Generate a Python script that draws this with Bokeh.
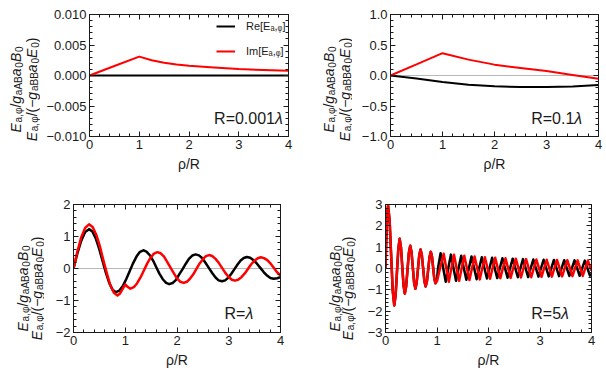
import math
from bokeh.plotting import figure
from bokeh.models import (Label, Span, LinearAxis, SingleIntervalTicker,
                          CustomJSTickFormatter, Legend, LegendItem, Range1d)
from bokeh.layouts import column, row
from bokeh.embed import file_html
from bokeh.resources import INLINE

# ---------------- data ----------------
# Panel 1: R = 0.001 lambda
p1_re_x = [0.0, 4.0]
p1_re_y = [0.0, 0.0]
p1_im_x = [0.0, 0.5, 1.0, 1.25, 1.5, 1.75, 2.0, 2.5, 3.0, 3.5, 4.0]
p1_im_y = [0.0, 0.00155, 0.0031, 0.0025, 0.0021, 0.0018, 0.0016, 0.0013, 0.00105, 0.0009, 0.00078]

# Panel 2: R = 0.1 lambda
p2_x = [0.0, 0.5, 1.0, 1.5, 2.0, 2.5, 3.0, 3.5, 4.0]
p2_re_y = [0.0, -0.05, -0.105, -0.15, -0.175, -0.19, -0.19, -0.18, -0.155]
p2_im_y = [0.0, 0.183, 0.366, 0.26, 0.178, 0.122, 0.075, 0.01, -0.055]

# Panel 3: R = lambda  (x, y) pairs
p3_re = [(0.0, 0.0), (0.075, 0.47), (0.15, 0.87), (0.225, 1.14), (0.3, 1.23), (0.365, 1.155),
         (0.43, 0.94), (0.495, 0.62), (0.56, 0.245), (0.625, -0.13), (0.69, -0.45), (0.755, -0.665),
         (0.82, -0.74), (0.886, -0.69), (0.953, -0.55), (1.02, -0.33), (1.085, -0.085), (1.15, 0.16),
         (1.22, 0.38), (1.285, 0.52), (1.35, 0.57), (1.41, 0.53), (1.475, 0.415), (1.54, 0.24),
         (1.6, 0.04), (1.66, -0.16), (1.725, -0.335), (1.79, -0.45), (1.85, -0.49), (1.915, -0.455),
         (1.98, -0.355), (2.04, -0.19), (2.105, -0.025), (2.17, 0.15), (2.23, 0.3), (2.295, 0.405),
         (2.36, 0.44), (2.425, 0.41), (2.49, 0.32), (2.55, 0.18), (2.615, 0.02), (2.68, -0.14),
         (2.745, -0.28), (2.805, -0.37), (2.87, -0.40), (2.93, -0.37), (2.99, -0.29), (3.05, -0.165),
         (3.11, -0.02), (3.17, 0.125), (3.23, 0.25), (3.29, 0.33), (3.35, 0.36), (3.415, 0.335),
         (3.48, 0.26), (3.545, 0.15), (3.61, 0.02), (3.675, -0.11), (3.74, -0.22), (3.805, -0.295),
         (3.87, -0.32), (3.935, -0.305), (4.0, -0.27)]
p3_im = [(0.0, 0.0), (0.075, 0.53), (0.15, 0.98), (0.225, 1.27), (0.3, 1.38), (0.37, 1.295),
         (0.44, 1.055), (0.51, 0.69), (0.575, 0.27), (0.645, -0.15), (0.71, -0.515), (0.78, -0.755),
         (0.85, -0.84), (0.9, -0.78), (0.95, -0.64), (1.0, -0.5), (1.05, -0.58), (1.1, -0.63),
         (1.165, -0.585), (1.23, -0.46), (1.295, -0.28), (1.36, -0.06), (1.425, 0.16), (1.49, 0.34),
         (1.555, 0.465), (1.62, 0.51), (1.685, 0.475), (1.75, 0.37), (1.81, 0.21), (1.875, 0.03),
         (1.94, -0.15), (2.0, -0.31), (2.065, -0.415), (2.13, -0.45), (2.19, -0.415), (2.25, -0.32),
         (2.315, -0.18), (2.375, -0.015), (2.435, 0.15), (2.5, 0.29), (2.56, 0.385), (2.62, 0.42),
         (2.68, 0.39), (2.745, 0.30), (2.81, 0.17), (2.87, 0.02), (2.93, -0.13), (2.995, -0.26),
         (3.06, -0.35), (3.12, -0.38), (3.18, -0.35), (3.245, -0.27), (3.31, -0.155), (3.37, -0.015),
         (3.43, 0.125), (3.495, 0.24), (3.56, 0.32), (3.62, 0.35), (3.68, 0.325), (3.745, 0.26),
         (3.81, 0.15), (3.87, 0.02), (3.93, -0.11), (4.0, -0.22)]

# Panel 4: R = 5 lambda ; inside part (rho < R) shared by both curves
p4_inside = [(0.0, 0.0), (0.0125, 1.13), (0.025, 2.09), (0.0375, 2.72), (0.05, 2.95), (0.08, 2.26),
             (0.11, 0.61), (0.14, -1.04), (0.17, -1.73), (0.196, -1.27), (0.2225, -0.17), (0.249, 0.93),
             (0.275, 1.39), (0.3, 1.0), (0.325, 0.11), (0.35, -0.79), (0.375, -1.17), (0.401, -0.84),
             (0.4275, -0.05), (0.454, 0.74), (0.48, 1.07), (0.505, 0.77), (0.53, 0.06), (0.555, -0.65),
             (0.58, -0.95), (0.605, -0.68), (0.63, -0.03), (0.655, 0.62), (0.68, 0.89), (0.705, 0.64),
             (0.73, 0.025), (0.755, -0.59), (0.78, -0.84), (0.805, -0.6), (0.83, -0.03), (0.855, 0.54),
             (0.88, 0.78), (0.9025, 0.565), (0.925, 0.045), (0.9475, -0.475), (0.97, -0.69)]
p4_re_out = [(1.0, -0.5), (1.02, 0.02), (1.07, 0.72), (1.12, 0.02), (1.17, -0.62), (1.22, 0.02),
             (1.27, 0.65), (1.32, 0.02), (1.37, -0.57), (1.42, 0.02), (1.47, 0.6), (1.52, 0.02),
             (1.57, -0.53), (1.62, 0.02), (1.67, 0.56), (1.72, 0.02), (1.77, -0.5), (1.82, 0.02),
             (1.87, 0.53), (1.92, 0.02), (1.97, -0.47), (2.02, 0.02), (2.07, 0.5), (2.12, 0.02),
             (2.17, -0.45), (2.22, 0.02), (2.27, 0.48), (2.32, 0.02), (2.37, -0.43), (2.42, 0.02),
             (2.47, 0.46), (2.52, 0.02), (2.57, -0.41), (2.62, 0.02), (2.67, 0.44), (2.72, 0.02),
             (2.77, -0.4), (2.82, 0.02), (2.87, 0.42), (2.92, 0.02), (2.97, -0.38), (3.02, 0.02),
             (3.07, 0.41), (3.12, 0.02), (3.17, -0.37), (3.22, 0.02), (3.27, 0.4), (3.32, 0.02),
             (3.37, -0.36), (3.42, 0.02), (3.47, 0.39), (3.52, 0.02), (3.57, -0.35), (3.62, 0.02),
             (3.67, 0.38), (3.72, 0.02), (3.77, -0.34), (3.82, 0.02), (3.87, 0.37), (3.92, 0.02),
             (3.97, -0.33), (4.0, -0.26)]
p4_im_out = [(1.0, -0.6), (1.06, 0.02), (1.13, 0.69), (1.18, 0.02), (1.23, -0.62), (1.28, 0.02),
             (1.33, 0.64), (1.38, 0.02), (1.43, -0.58), (1.48, 0.02), (1.53, 0.6), (1.58, 0.02),
             (1.63, -0.54), (1.68, 0.02), (1.73, 0.56), (1.78, 0.02), (1.83, -0.51), (1.88, 0.02),
             (1.93, 0.53), (1.98, 0.02), (2.03, -0.48), (2.08, 0.02), (2.13, 0.5), (2.18, 0.02),
             (2.23, -0.46), (2.28, 0.02), (2.33, 0.48), (2.38, 0.02), (2.43, -0.44), (2.48, 0.02),
             (2.53, 0.46), (2.58, 0.02), (2.63, -0.42), (2.68, 0.02), (2.73, 0.44), (2.78, 0.02),
             (2.83, -0.41), (2.88, 0.02), (2.93, 0.42), (2.98, 0.02), (3.03, -0.39), (3.08, 0.02),
             (3.13, 0.41), (3.18, 0.02), (3.23, -0.38), (3.28, 0.02), (3.33, 0.4), (3.38, 0.02),
             (3.43, -0.37), (3.48, 0.02), (3.53, 0.39), (3.58, 0.02), (3.63, -0.36), (3.68, 0.02),
             (3.73, 0.38), (3.78, 0.02), (3.83, -0.35), (3.88, 0.02), (3.93, 0.37), (3.98, 0.02),
             (4.0, -0.1)]

legend_labels = ["Re[Eₐ,ᵩ]", "Im[Eₐ,ᵩ]"]
r_labels = ["0.001", "0.1", "", "5"]

# ---------------- styling helpers ----------------
FONT = "Liberation Sans"
INK = "#1a1a1a"
RED = "#ff0000"

CW = {'0': 556, '1': 556, '2': 556, '3': 556, '4': 556, '5': 556, '.': 278, ',': 278,
      '/': 278, '(': 333, ')': 333, '[': 278, ']': 278, '=': 584, '\u2212': 584,
      'R': 722, 'E': 667, 'A': 667, 'B': 667, 'a': 556, 'g': 556, 'λ': 520, 'φ': 650}


def tw(s, size):
    return sum(CW.get(c, 556) for c in s) * size / 1000.0


YLINE1 = [("E", "i"), ("a,φ", "s"), ("/", "n"), ("g", "i"), ("aAB", "s"), ("a", "i"),
          ("0", "s"), ("B", "i"), ("0", "s")]
YLINE2 = [("E", "i"), ("a,φ", "s"), ("/(", "n"), ("\u2212", "n"), ("g", "i"), ("aBB", "s"),
          ("a", "i"), ("0", "s"), ("E", "i"), ("0", "s"), (")", "n")]


def label_fig(width, top, fh, bottom, xs):
    """Narrow figure carrying the two-line rotated y label of the panel to its right."""
    height = top + fh + bottom
    f = figure(frame_width=width, frame_height=height, x_range=Range1d(0, 1), y_range=Range1d(0, 1),
               x_axis_type=None, y_axis_type=None, output_backend="svg", toolbar_location=None,
               min_border_left=0, min_border_right=0, min_border_top=0, min_border_bottom=0,
               outline_line_color=None, background_fill_color="white", border_fill_color="white")
    f.xgrid.visible = False
    f.ygrid.visible = False
    yc = bottom + fh / 2
    for line, x0 in zip((YLINE1, YLINE2), xs):
        sizes = [10 if k == "s" else 14 for _, k in line]
        adv = [tw(t, s) + (0.8 if k == "i" else 0) for (t, k), s in zip(line, sizes)]
        y = yc - sum(adv) / 2
        for (t, k), s, a in zip(line, sizes, adv):
            f.add_layout(Label(x=x0 + (3 if k == "s" else 0), y=y, x_units="screen", y_units="screen",
                               text=t, angle=math.pi / 2, text_font=FONT, text_font_size=f"{s}px",
                               text_font_style="italic" if k == "i" else "normal", text_color=INK,
                               text_align="left", text_baseline="alphabetic"))
            y += a
    return f


def fmt(d):
    return CustomJSTickFormatter(args=dict(d=d), code="return tick.toFixed(d).replace('-', '\u2212');")


def style_axis(ax, ticker, formatter, labels=True):
    ax.ticker = ticker
    ax.formatter = formatter
    ax.major_tick_in = 5
    ax.major_tick_out = 0
    ax.minor_tick_in = 3
    ax.minor_tick_out = 0
    ax.axis_line_color = INK
    ax.major_tick_line_color = INK
    ax.minor_tick_line_color = INK
    if labels:
        ax.major_label_text_font = FONT
        ax.major_label_text_font_size = "13px"
        ax.major_label_text_color = INK
        ax.major_label_standoff = 3
    else:
        ax.major_label_text_font_size = "0px"
        ax.major_label_standoff = 0


def panel(ylim, ystep, ydig, fw, fh, borders, curves, rnum, lw, legend=False):
    l, r, t, b = borders
    p = figure(frame_width=fw, frame_height=fh, x_range=Range1d(0, 4), y_range=Range1d(*ylim),
               output_backend="svg", toolbar_location=None,
               min_border_left=l, min_border_right=r, min_border_top=t, min_border_bottom=b,
               outline_line_color=INK, outline_line_width=1,
               background_fill_color="white", border_fill_color="white")
    p.xgrid.visible = False
    p.ygrid.visible = False
    style_axis(p.xaxis[0], SingleIntervalTicker(interval=1, num_minor_ticks=5), fmt(0))
    style_axis(p.yaxis[0], SingleIntervalTicker(interval=ystep, num_minor_ticks=5), fmt(ydig))
    p.xaxis[0].axis_label = "ρ/R"
    p.xaxis[0].axis_label_text_font = FONT
    p.xaxis[0].axis_label_text_font_size = "14px"
    p.xaxis[0].axis_label_text_font_style = "normal"
    p.xaxis[0].axis_label_text_color = INK
    p.xaxis[0].axis_label_standoff = 4
    top = LinearAxis()
    style_axis(top, SingleIntervalTicker(interval=1, num_minor_ticks=5),
               CustomJSTickFormatter(code="return '';"), labels=False)
    p.add_layout(top, "above")
    rgt = LinearAxis()
    style_axis(rgt, SingleIntervalTicker(interval=ystep, num_minor_ticks=5),
               CustomJSTickFormatter(code="return '';"), labels=False)
    p.add_layout(rgt, "right")

    p.add_layout(Span(location=0, dimension="width", line_color="#b8b8b8", line_width=1, level="underlay"))

    rends = []
    for xs, ys, col in curves:
        rends.append(p.line(list(xs), list(ys), line_color=col, line_width=lw, line_join="round"))

    # R = ... label (centred at rho = 3.2, y = -0.7 ymax)
    main = "R=" + rnum
    wm, wl = tw(main, 16), tw("λ", 16)
    wt = wm + wl
    ly = -0.7 * ylim[1]
    p.add_layout(Label(x=3.2, y=ly, x_offset=-wt / 2, text=main, text_font=FONT, text_font_size="16px",
                       text_color=INK, text_align="left", text_baseline="middle"))
    p.add_layout(Label(x=3.2, y=ly, x_offset=-wt / 2 + wm, text="λ", text_font=FONT, text_font_size="16px",
                       text_font_style="italic", text_color=INK, text_align="left", text_baseline="middle"))

    if legend:
        lg = Legend(items=[LegendItem(label=legend_labels[0], renderers=[rends[0]]),
                           LegendItem(label=legend_labels[1], renderers=[rends[1]])],
                    location=(127, 75), glyph_width=19, glyph_height=20, label_standoff=11,
                    spacing=5, padding=0, margin=0, background_fill_alpha=0, border_line_alpha=0,
                    label_text_font=FONT, label_text_font_size="11px", label_text_color=INK)
        p.add_layout(lg)
    return p


def unz(pairs):
    return [a for a, _ in pairs], [b for _, b in pairs]


r3x, r3y = unz(p3_re)
i3x, i3y = unz(p3_im)
r4x, r4y = unz(p4_inside + p4_re_out)
i4x, i4y = unz(p4_inside + p4_im_out)

TOP_T, TOP_H, TOP_B = 14, 122, 48
BOT_T, BOT_H, BOT_B = 20, 128, 46

p1 = panel((-0.01, 0.01), 0.005, 3, 199, TOP_H, (49, 14, TOP_T, TOP_B),
           [(p1_re_x, p1_re_y, "black"), (p1_im_x, p1_im_y, RED)], r_labels[0], 2, legend=True)
p2 = panel((-1, 1), 0.5, 1, 208, TOP_H, (38, 7, TOP_T, TOP_B),
           [(p2_x, p2_re_y, "black"), (p2_x, p2_im_y, RED)], r_labels[1], 2)
p3 = panel((-2, 2), 1, 0, 207, BOT_H, (29, 14, BOT_T, BOT_B),
           [(r3x, r3y, "black"), (i3x, i3y, RED)], r_labels[2], 2.5)
p4 = panel((-3, 3), 1, 0, 206, BOT_H, (29, 14, BOT_T, BOT_B),
           [(r4x, r4y, "black"), (i4x, i4y, RED)], r_labels[3], 2.5)

l1 = label_fig(40, TOP_T, TOP_H, TOP_B, (15, 31))
l2 = label_fig(50, TOP_T, TOP_H, TOP_B, (26, 42))
l3 = label_fig(44, BOT_T, BOT_H, BOT_B, (22, 36))
l4 = label_fig(62, BOT_T, BOT_H, BOT_B, (40, 53))

layout = column(row(l1, p1, l2, p2), row(l3, p3, l4, p4))
open("out.html", "w").write(file_html(layout, INLINE))
